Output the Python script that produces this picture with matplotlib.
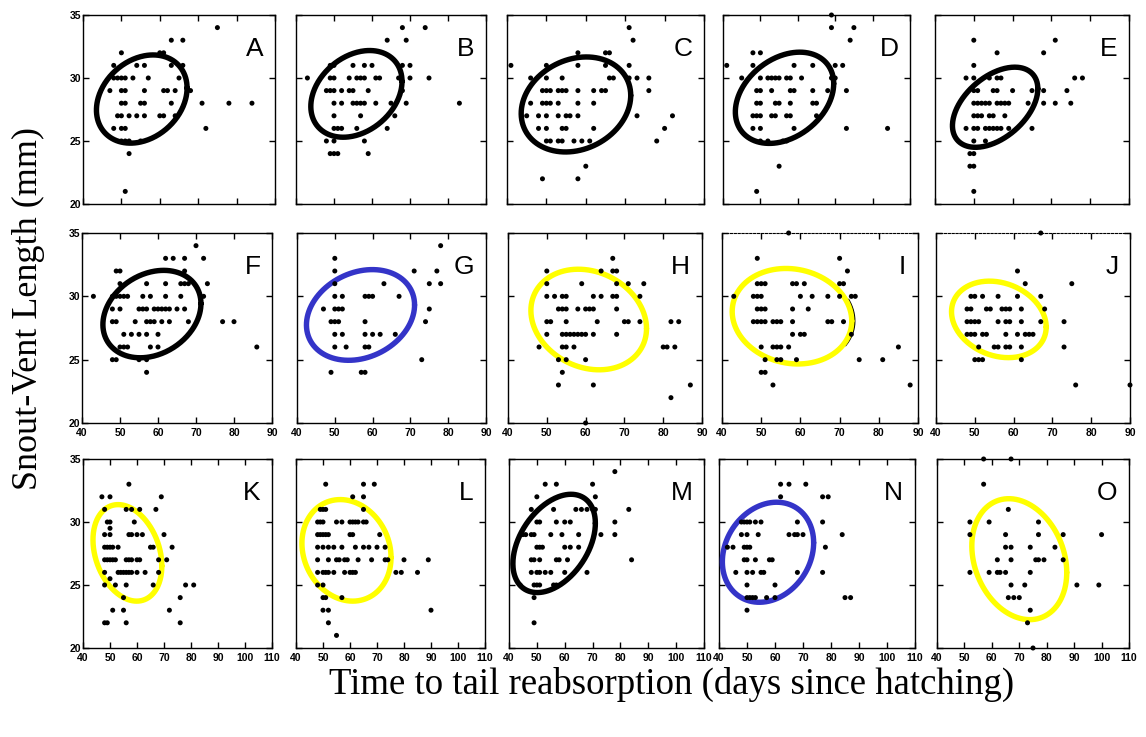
"""Snout-vent length against time to tail reabsorption, fifteen panels."""

import numpy as np
import matplotlib

matplotlib.use("Agg")
import matplotlib.pyplot as plt

W, H = 1146, 737

BLACK = "#000000"
BLUE = "#3434c8"
YELLOW = "#ffff00"

# points per panel: snout-vent length (mm) -> days to tail reabsorption
POINTS_A = {34: [75], 33: [63, 66], 32: [50, 60, 61], 31: [48, 54, 56, 63, 66],
            30: [48, 49, 50, 51, 53, 57, 65], 29: [47, 50, 51, 56, 61, 62, 64, 68],
            28: [50, 51, 55, 56, 63, 71, 78, 84], 27: [49, 50, 52, 54, 56, 60, 61, 64],
            26: [48, 50, 51, 72], 25: [50, 51, 52, 55], 24: [52], 21: [51]}
POINTS_B = {34: [68, 74], 33: [64, 69], 31: [49, 50, 55, 58, 60, 68, 70],
            30: [43, 49, 50, 54, 56, 57, 58, 61, 62, 67, 70, 75],
            29: [48, 49, 50, 52, 54, 55, 59, 68],
            28: [50, 52, 55, 56, 57, 58, 61, 65, 69, 83], 27: [50, 57, 66],
            26: [50, 51, 52, 56, 64], 25: [48, 50, 58], 24: [49, 50, 51, 59]}
POINTS_C = {34: [71], 33: [72], 32: [58, 65, 66], 31: [41, 50, 58, 65, 71],
            30: [46, 50, 54, 66, 67, 71, 73, 76],
            29: [49, 50, 51, 53, 54, 55, 58, 62, 64, 65, 76],
            28: [46, 49, 50, 51, 53, 58, 62], 27: [45, 48, 50, 53, 55, 56, 58, 73, 82],
            26: [48, 50, 54, 55, 62, 80], 25: [50, 51, 53, 54, 57, 59, 61, 78],
            23: [60], 22: [49, 58]}
POINTS_D = {35: [69], 34: [69, 75], 33: [74], 32: [48, 50], 31: [41, 48, 59, 64, 70, 72],
            30: [45, 50, 52, 53, 54, 55, 57, 58, 61, 69, 70],
            29: [49, 50, 53, 58, 59, 64, 68, 73], 28: [49, 50, 54, 55, 58, 64, 65],
            27: [48, 49, 50, 53, 54, 57, 58, 65], 26: [48, 50, 59, 73, 84],
            25: [50, 52, 56, 57], 23: [55], 21: [49]}
POINTS_E = {33: [50, 71], 32: [56, 68], 31: [50], 30: [48, 50, 54, 56, 57, 76, 78],
            29: [50, 51, 55, 56, 60, 65, 68, 74],
            28: [50, 51, 52, 53, 54, 56, 57, 58, 59, 64, 68, 71, 75],
            27: [50, 51, 52, 54, 55, 58], 26: [48, 50, 51, 53, 54, 55, 56, 57, 59, 65],
            25: [50, 53], 24: [49, 50], 23: [49, 50], 21: [50]}
POINTS_F = {34: [70], 33: [62, 64, 67, 72], 32: [49, 50, 67],
            31: [50, 57, 62, 66, 67, 68, 73],
            30: [43, 48, 49, 50, 51, 52, 56, 58, 62, 66, 72],
            29: [48, 50, 55, 56, 57, 59, 60, 61, 62, 63, 65, 67],
            28: [48, 49, 54, 57, 58, 59, 61, 63, 68, 77, 80], 27: [51, 53, 55, 57, 60],
            26: [50, 51, 52, 58, 60, 86], 25: [48, 49, 55, 57], 24: [57]}
POINTS_G = {34: [78], 33: [50], 32: [50, 71, 77], 31: [50, 63, 75, 78],
            30: [50, 52, 58, 59, 60, 67], 29: [47, 50, 51, 52, 75],
            28: [49, 50, 51, 58, 74], 27: [50, 52, 58, 60, 62, 66],
            26: [50, 53, 58, 59], 25: [73], 24: [49, 57, 58]}
POINTS_H = {33: [67], 32: [50, 64, 67, 68], 31: [50, 59, 68, 71, 75],
            30: [50, 52, 54, 55, 62, 64, 67, 68, 74], 29: [53, 54, 55, 58, 60, 61, 62, 68],
            28: [50, 51, 55, 63, 70, 71, 74, 82, 84],
            27: [50, 54, 55, 56, 57, 58, 59, 60, 62, 68],
            26: [48, 54, 55, 57, 80, 81, 83], 25: [53, 55, 60], 24: [54],
            23: [53, 62, 87], 22: [82], 20: [60]}
POINTS_I = {35: [57], 33: [49, 70], 32: [72], 31: [49, 50, 51, 58, 59, 61, 70, 71],
            30: [43, 48, 49, 50, 60, 63, 67, 70, 73, 74], 29: [49, 50, 51, 58, 62],
            28: [48, 49, 50, 51, 53, 54, 55, 58, 67, 68, 71], 27: [58, 60, 61, 73],
            26: [50, 53, 54, 55, 57, 85], 25: [51, 54, 55, 59, 75, 81],
            24: [50, 51], 23: [53, 88]}
POINTS_J = {35: [67], 32: [61], 31: [63, 75], 30: [49, 50, 52, 56, 61, 67],
            29: [48, 49, 53, 54, 57, 58, 59, 62, 68],
            28: [48, 49, 50, 51, 56, 58, 59, 62, 67, 73],
            27: [48, 49, 50, 52, 53, 58, 61, 63, 64, 65],
            26: [51, 55, 56, 58, 59, 62, 73], 25: [50, 51, 52, 62], 23: [76, 90]}
POINTS_K = {33: [57], 32: [47, 50, 69], 31: [48, 56, 58, 61, 67], 30: [49, 50, 59],
            29.5: [50], 29: [48, 50, 57, 58, 60, 62, 70],
            28: [48, 49, 50, 51, 53, 65, 66, 73],
            27: [48, 49, 50, 51, 52, 56, 57, 58, 60, 61, 68, 71],
            26: [48, 53, 54, 55, 56, 57, 58, 60, 63, 68], 25.5: [50],
            25: [48, 52, 56, 66, 78, 81], 24: [55, 76], 23: [51, 55, 72],
            22: [48, 49, 56, 76]}
POINTS_L = {33: [51, 65, 69], 32: [61, 65], 31: [49, 50, 51, 65],
            30: [48, 49, 50, 55, 57, 60, 61, 62, 63, 65, 66],
            29: [48, 49, 50, 51, 52, 60, 61, 71],
            28: [48, 50, 52, 54, 57, 62, 65, 67, 70, 73],
            27: [48, 52, 55, 56, 58, 59, 63, 68, 73, 74, 80, 89],
            26: [48, 50, 51, 52, 54, 58, 60, 61, 62, 77, 79, 85], 25: [48, 50],
            24: [50, 51, 57], 23: [50, 52, 90], 22: [52], 21: [55]}
POINTS_M = {34: [78], 33: [53, 57, 70], 32: [50, 71],
            31: [48, 56, 64, 66, 68, 70, 71, 83], 30: [50, 51, 57, 60, 62, 78],
            29: [45, 46, 48, 49, 55, 59, 65, 73, 78], 28: [50, 51, 52, 60, 62, 65],
            27: [48, 49, 51, 57, 58, 61, 84], 26: [48, 50, 51, 53, 55, 60, 68],
            25: [44, 49, 50, 51, 56, 57], 24: [49], 22: [49]}
POINTS_N = {33: [62, 65, 71], 32: [62, 77, 79], 30: [48, 49, 50, 51, 53, 55, 68, 77],
            29: [48, 50, 54, 65, 67, 68, 70, 84], 28: [43, 45, 49, 50, 51, 78],
            27: [49, 50, 53, 58, 59], 26: [46, 50, 52, 55, 56, 68, 77], 25: [50, 60],
            24: [50, 51, 52, 53, 57, 60, 85, 87], 23: [50]}
POINTS_O = {35: [57, 67], 33: [57], 31: [66], 30: [52, 59, 77],
            29: [52, 65, 77, 86, 100], 28: [65, 67, 74, 83],
            27: [62, 67, 76, 77, 79, 86], 26: [52, 59, 62, 63, 65, 74],
            25: [67, 72, 91, 99], 24: [66, 68, 70], 23: [74], 22: [73], 20: [75]}

# fitted ellipses: centre x, centre y, half-width x, half-height y, correlation
ELLIPSES = {
    "A": (55.3, 28.33, 11.8, 3.50, 0.25), "B": (55.9, 28.74, 12.0, 3.44, 0.29),
    "C": (57.5, 27.90, 13.9, 3.77, 0.19), "D": (56.45, 28.43, 13.15, 3.62, 0.31),
    "E": (55.5, 27.68, 11.0, 3.18, 0.46), "F": (58.4, 28.60, 12.9, 3.45, 0.24),
    "G": (56.8, 28.53, 14.3, 3.58, 0.22), "H": (60.8, 28.17, 14.9, 3.97, -0.18),
    "I": (57.85, 28.43, 15.25, 3.77, -0.10), "J": (56.2, 28.18, 12.2, 3.02, -0.20),
    "K": (56.45, 27.55, 12.75, 3.83, -0.27), "L": (58.7, 27.75, 16.5, 4.03, -0.14),
    "M": (56.2, 28.30, 14.8, 3.90, 0.41), "N": (57.5, 27.60, 16.3, 3.97, 0.19),
    "O": (70.0, 27.05, 17.3, 4.80, -0.22),
}

ELLIPSE_COLOURS = {
    "A": BLACK, "B": BLACK, "C": BLACK, "D": BLACK, "E": BLACK, "F": BLACK,
    "G": BLUE, "H": YELLOW, "I": YELLOW, "J": YELLOW, "K": YELLOW, "L": YELLOW,
    "M": BLACK, "N": BLUE, "O": YELLOW,
}

PANELS = {
    "A": POINTS_A, "B": POINTS_B, "C": POINTS_C, "D": POINTS_D, "E": POINTS_E,
    "F": POINTS_F, "G": POINTS_G, "H": POINTS_H, "I": POINTS_I, "J": POINTS_J,
    "K": POINTS_K, "L": POINTS_L, "M": POINTS_M, "N": POINTS_N, "O": POINTS_O,
}

# axes boxes in pixels: left, right, top, bottom
BOXES = {
    "A": (83, 275, 15, 204), "B": (296, 486, 15, 204), "C": (507, 704, 15, 204),
    "D": (723, 910, 15, 204), "E": (935, 1129, 15, 204),
    "F": (82, 272, 233, 423), "G": (297, 486, 233, 423), "H": (508, 702, 233, 423),
    "I": (722, 918, 233, 423), "J": (936, 1130, 233, 423),
    "K": (83, 272, 459, 648), "L": (296, 485, 459, 648), "M": (509, 704, 459, 648),
    "N": (719, 915, 459, 648), "O": (937, 1129, 459, 648),
}


def ellipse_path(cx, cy, sx, sy, rho, t0=0.0, t1=2 * np.pi):
    t = np.linspace(t0, t1, 300)
    x = cx + sx * np.cos(t)
    y = cy + sy * (rho * np.cos(t) + np.sqrt(1 - rho ** 2) * np.sin(t))
    return x, y


plt.rcParams["font.family"] = ["Liberation Sans", "DejaVu Sans"]
fig = plt.figure(figsize=(W / 100, H / 100), dpi=100)

for index, letter in enumerate("ABCDEFGHIJKLMNO"):
    row, col = divmod(index, 5)
    left, right, top, bottom = BOXES[letter]
    ax = fig.add_axes([left / W, 1 - bottom / H, (right - left) / W, (bottom - top) / H])

    points = PANELS[letter]
    days = [d for svl, ds in points.items() for d in ds]
    svls = [svl for svl, ds in points.items() for _ in ds]

    cx, cy, sx, sy, rho = ELLIPSES[letter]
    colour = ELLIPSE_COLOURS[letter]
    if letter == "I":
        # dark shadow along the right edge of this ellipse
        bx, by = ellipse_path(cx + 0.7, cy, sx, sy, rho, -0.55, 0.45)
        ax.plot(bx, by, color=BLACK, lw=1.4, zorder=2)
    ex, ey = ellipse_path(cx, cy, sx, sy, rho)
    ax.plot(ex, ey, color=colour, lw=3.9, zorder=3, solid_capstyle="round")
    ax.scatter(days, svls, s=13, color=BLACK, edgecolors="none", zorder=4, clip_on=False)

    xmax = 110 if row == 2 else 90
    ax.set_xlim(40, xmax)
    ax.set_ylim(20, 35)
    ax.set_xticks(np.arange(40, xmax + 1, 10))
    ax.set_yticks([20, 25, 30, 35])
    ax.tick_params(direction="in", length=4, width=1, top=True, right=True,
                   labelsize=7.5)
    ax.tick_params(axis="y", pad=1.5)
    ax.tick_params(axis="x", pad=3.5)
    for label in ax.get_xticklabels() + ax.get_yticklabels():
        label.set_fontweight("bold")
    if col != 0:
        ax.tick_params(labelleft=False)
    if row == 0:
        ax.tick_params(labelbottom=False)
    for spine in ax.spines.values():
        spine.set_linewidth(1.0)
    if letter in ("I", "J"):
        ax.spines["top"].set_linestyle((0, (2, 1.5)))
        ax.spines["top"].set_linewidth(0.8)

    ax.text(0.94, 0.885, letter, transform=ax.transAxes, ha="right", va="top",
            fontsize=19)

fig.text(28 / W, 1 - 309 / H, "Snout-Vent Length (mm)", rotation=90,
         ha="center", va="center", fontsize=26, family="Liberation Serif")
fig.text(672 / W, 1 - 684 / H, "Time to tail reabsorption (days since hatching)",
         ha="center", va="center", fontsize=26.5, family="Liberation Serif")

fig.savefig("out.png", dpi=100)
